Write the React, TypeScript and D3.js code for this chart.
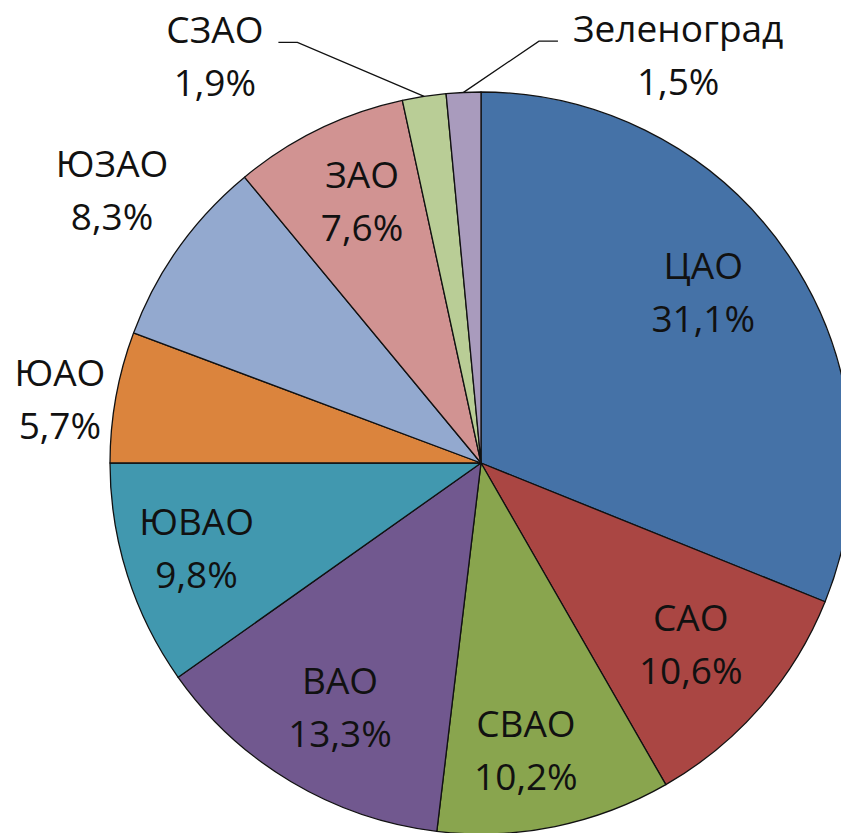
import React, { useEffect, useRef } from "react";
import * as d3 from "d3";

const categories = ["ЦАО", "САО", "СВАО", "ВАО", "ЮВАО", "ЮАО", "ЮЗАО", "ЗАО", "СЗАО", "Зеленоград"];
const shares = [31.1, 10.6, 10.2, 13.3, 9.8, 5.7, 8.3, 7.6, 1.9, 1.5];
const valueLabels = ["31,1%", "10,6%", "10,2%", "13,3%", "9,8%", "5,7%", "8,3%", "7,6%", "1,9%", "1,5%"];
const colors = ["#4572A7", "#AA4643", "#89A54E", "#71588F", "#4198AF", "#DB843D", "#93A9CF", "#D19392", "#B9CD96", "#A99BBD"];

// label layout: polar angle (deg, clockwise from top) and radius factor of label block centre
const labelAngle = [52.5, 130.8, 171.1, 210, 253.4, 278.6, 306.5, 335.6, 326.8, 25.8];
const labelRadius = [0.755, 0.747, 0.782, 0.76, 0.8, 1.148, 1.237, 0.776, 1.31, 1.221];
const labelLeader = [0, 0, 0, 0, 0, 0, 0, 0, -1, 1]; // -1: line to the right of label, 1: to the left

const W = 841;
const H = 833;
const CX = 481;
const CY = 463;
const R = 371;
const FONT = 37;
const LINE = 53;

export default function App() {
  const ref = useRef<SVGSVGElement | null>(null);

  useEffect(() => {
    const svg = d3.select(ref.current);
    svg.selectAll("*").remove();
    const g = svg.append("g").attr("transform", `translate(${CX},${CY})`);

    const pie = d3.pie<number>().sort(null).value((d) => d);
    const arcs = pie(shares);
    const arc = d3.arc<d3.PieArcDatum<number>>().innerRadius(0).outerRadius(R);

    g.selectAll("path.slice")
      .data(arcs)
      .enter()
      .append("path")
      .attr("class", "slice")
      .attr("d", arc as any)
      .attr("fill", (_, i) => colors[i])
      .attr("stroke", "#111")
      .attr("stroke-width", 1.3)
      .attr("stroke-linejoin", "round");

    const rad = (deg: number) => (deg * Math.PI) / 180;

    arcs.forEach((a, i) => {
      const ang = rad(labelAngle[i]);
      const lx = Math.sin(ang) * R * labelRadius[i];
      const ly = -Math.cos(ang) * R * labelRadius[i];
      const t = g
        .append("text")
        .attr("text-anchor", "middle")
        .attr("font-family", "'Open Sans', 'DejaVu Sans', sans-serif")
        .attr("font-size", FONT)
        .attr("fill", "#111");
      t.append("tspan").attr("x", lx).attr("y", ly - 13).text(categories[i]);
      t.append("tspan").attr("x", lx).attr("y", ly + 40).text(valueLabels[i]);

      if (labelLeader[i] !== 0) {
        const mid = (a.startAngle + a.endAngle) / 2;
        const ex = Math.sin(mid) * R;
        const ey = -Math.cos(mid) * R;
        const firstLine = (t.select("tspan").node() as SVGTSpanElement);
        const w = firstLine.getComputedTextLength();
        const yLine = ly - 14;
        const dir = labelLeader[i];
        const endX = lx - dir * (w / 2 + 15);
        const elbowX = endX - dir * 19;
        g.append("polyline")
          .attr("points", `${ex},${ey} ${elbowX},${yLine} ${endX},${yLine}`)
          .attr("fill", "none")
          .attr("stroke", "#111")
          .attr("stroke-width", 1.3);
      }
    });
  }, []);

  return (
    <svg
      ref={ref}
      width={W}
      height={H}
      style={{ position: "absolute", left: 0, top: 0, background: "#fff" }}
    />
  );
}
